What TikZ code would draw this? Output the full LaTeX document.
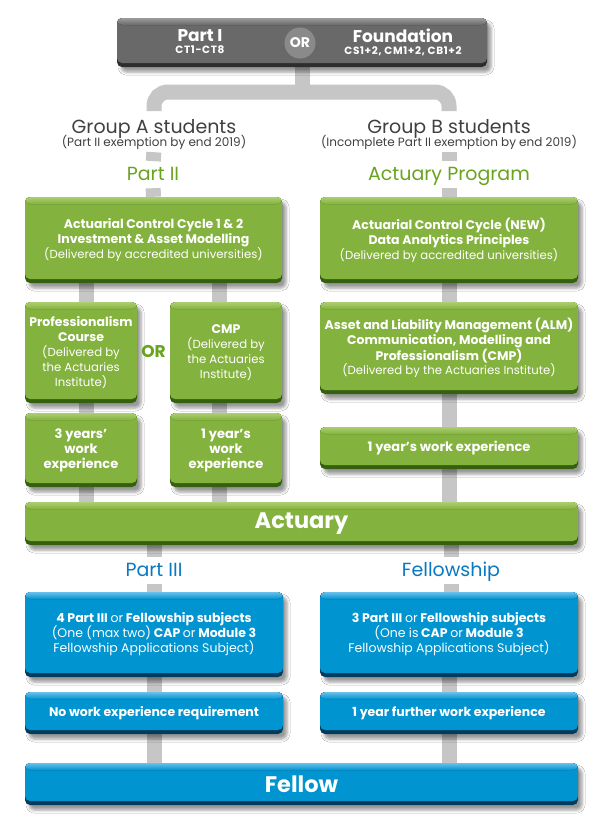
\documentclass[tikz,border=0pt]{standalone}
\usepackage{fontspec}
\setmainfont{Poppins}
\usetikzlibrary{shadows.blur,backgrounds,calc}
\definecolor{conncol}{RGB}{198,198,198}
\definecolor{gmid}{RGB}{132,178,62}
\definecolor{glight}{RGB}{172,206,112}
\definecolor{gdark}{RGB}{52,96,16}
\definecolor{bmid}{RGB}{0,148,208}
\definecolor{blight}{RGB}{105,192,236}
\definecolor{bdark}{RGB}{0,58,92}
\definecolor{kmid}{RGB}{105,105,105}
\definecolor{klight}{RGB}{155,155,155}
\definecolor{kdark}{RGB}{45,45,45}
\definecolor{orcol}{RGB}{138,138,138}
\definecolor{gtext}{RGB}{104,164,30}
\definecolor{btext}{RGB}{10,120,192}
\definecolor{ktext}{RGB}{64,64,64}
\newcommand{\regtxt}[1]{{\fontsize{11.7}{14.5}\selectfont\mdseries #1}}
\tikzset{
  conn/.style={draw=conncol, line width=15pt},
  threed/.style n args={3}{fill=#3,
    path picture={
      \fill[#2] ([yshift=4pt]path picture bounding box.south west) rectangle (path picture bounding box.north east);
      \fill[top color=#1, bottom color=#2] ([yshift=-7pt]path picture bounding box.north west) rectangle (path picture bounding box.north east);
    }},
  boxbase/.style={rounded corners=5pt, inner sep=0pt, align=center, text=white,
    blur shadow={shadow xshift=4pt, shadow yshift=-5pt, shadow blur radius=3pt, shadow opacity=40}},
  gbox/.style={boxbase, threed={glight}{gmid}{gdark}, font=\fontsize{12.5}{14.8}\selectfont\bfseries},
  wbox/.style={gbox, font=\fontsize{13}{15}\selectfont\bfseries},
  bbox/.style={boxbase, threed={blight}{bmid}{bdark}, font=\fontsize{12.5}{15}\selectfont\bfseries},
  kbox/.style={boxbase, threed={klight}{kmid}{kdark}},
  head/.style={anchor=base, inner sep=1pt, text=ktext, text height=13.7pt, text depth=4pt, font=\fontsize{19}{22}\selectfont},
  subhead/.style={anchor=base, inner sep=1pt, text=ktext, text height=8.6pt, text depth=2.6pt, font=\fontsize{12}{14}\selectfont},
  ghead/.style={head, text=gtext},
  bhead/.style={head, text=btext},
  bigbox/.style={font=\fontsize{22.5}{26}\selectfont\bfseries},
}
\begin{document}
\begin{tikzpicture}[x=1pt,y=-1pt]
\useasboundingbox (0,0) rectangle (600,830);
% top box
\node[kbox, minimum width=370pt, minimum height=49pt] (top) at (302,42.5) {};
\node[circle, fill=orcol, minimum size=31pt, inner sep=0pt, text=white, font=\fontsize{14}{16}\selectfont\bfseries] (orc) at (300,43) {OR};
\node[text=white, align=center, inner sep=0pt, font=\fontsize{17}{12}\selectfont\bfseries] (p1) at (200,42) {Part I\\{\fontsize{10.5}{11}\selectfont\addfontfeature{LetterSpace=6}CT1-CT8}};
\node[text=white, align=center, inner sep=0pt, font=\fontsize{17}{12}\selectfont\bfseries] (fd) at (403,42) {Foundation\\{\fontsize{10.5}{11}\selectfont\addfontfeature{LetterSpace=6}CS1+2, CM1+2, CB1+2}};
% headings
\node[head] (gA) at (154,133) {Group A students};
\node[subhead] (sA) at (154,146) {(Part II exemption by end 2019)};
\node[ghead] (p2) at (153,180) {Part II};
\node[head] (gB) at (449,133) {Group B students};
\node[subhead] (sB) at (449,146) {(Incomplete Part II exemption by end 2019)};
\node[ghead] (ap) at (449,180) {Actuary Program};
% green boxes
\node[gbox, minimum width=257pt, minimum height=86pt] (accA) at (153.5,240)
  {Actuarial Control Cycle 1 \& 2\\Investment \& Asset Modelling\\\regtxt{(Delivered by accredited universities)}};
\node[gbox, minimum width=258pt, minimum height=86pt] (accB) at (449,240)
  {Actuarial Control Cycle (NEW)\\Data Analytics Principles\\\regtxt{(Delivered by accredited universities)}};
\node[gbox, minimum width=112pt, minimum height=101pt] (prof) at (81,352.5)
  {Professionalism\\Course\\\regtxt{(Delivered by}\\\regtxt{the Actuaries}\\\regtxt{Institute)}};
\node[gbox, minimum width=112pt, minimum height=101pt] (cmp) at (226,352.5)
  {CMP\\\regtxt{(Delivered by}\\\regtxt{the Actuaries}\\\regtxt{Institute)}};
\node[inner sep=0pt, text=gtext, font=\fontsize{17}{19}\selectfont\bfseries] (orA) at (153.5,352) {OR};
\node[gbox, minimum width=258pt, minimum height=92pt] (alm) at (449,348)
  {Asset and Liability Management (ALM)\\Communication, Modelling and\\Professionalism (CMP)\\\regtxt{(Delivered by the Actuaries Institute)}};
\node[wbox, minimum width=112pt, minimum height=74pt] (wA1) at (81,450) {3 years'\\work\\experience};
\node[wbox, minimum width=112pt, minimum height=74pt] (wA2) at (226,450) {1 year's\\work\\experience};
\node[wbox, minimum width=258pt, minimum height=42pt] (wB) at (449,448) {1 year's work experience};
\node[gbox, bigbox, minimum width=553pt, minimum height=43pt] (act) at (301.5,523.5) {Actuary};
% part III / fellowship
\node[bhead] (p3) at (154,576) {Part III};
\node[bhead] (fs) at (451,576) {Fellowship};
\node[bbox, minimum width=258pt, minimum height=85pt] (bA1) at (154,634.5)
  {4 Part III {\mdseries or} Fellowship subjects\\{\mdseries (One (max two)} CAP {\mdseries or} Module 3\\{\mdseries Fellowship Applications Subject)}};
\node[bbox, minimum width=258pt, minimum height=85pt] (bB1) at (449,634.5)
  {3 Part III {\mdseries or} Fellowship subjects\\{\mdseries (One is} CAP {\mdseries or} Module 3\\{\mdseries Fellowship Applications Subject)}};
\node[bbox, minimum width=258pt, minimum height=42pt] (bA2) at (154,713) {No work experience requirement};
\node[bbox, minimum width=258pt, minimum height=42pt] (bB2) at (449,713) {1 year further work experience};
\node[bbox, bigbox, minimum width=553pt, minimum height=42pt] (fel) at (301.5,784) {Fellow};
% connectors
\begin{scope}[on background layer]
  \fill[white] (0,0) rectangle (600,830);
  \coordinate (split) at (302,92);
  \coordinate (legA) at (154,111);
  \coordinate (legB) at (449,111);
  \draw[conn] (top.south) -- (split);
  \draw[conn, rounded corners=14pt] (legA) |- (split) -| (legB);
  \draw[conn, shorten <=2.4pt, shorten >=4pt] (sA.south) -- (p2.north);
  \draw[conn, shorten <=2.4pt, shorten >=4pt] (sB.south) -- (ap.north);
  \draw[conn, shorten <=3pt] (p2.south) -- (accA.north);
  \draw[conn, shorten <=3pt] (ap.south) -- (accB.north);
  \coordinate (cL) at (86,0);
  \coordinate (cR) at (219,0);
  \draw[conn] (accA.south -| cL) -- (act.north -| cL);
  \draw[conn] (accA.south -| cR) -- (act.north -| cR);
  \draw[conn] (accB.south) -- (act.north -| accB);
  \draw[conn, shorten >=4pt] (act.south -| p3) -- (p3.north);
  \draw[conn, shorten >=4pt] (act.south -| fs) -- (fs.north);
  \draw[conn, shorten <=3pt] (p3.south) -- (bA1.north -| p3);
  \draw[conn, shorten <=3pt] (fs.south) -- (bB1.north -| fs);
  \draw[conn] (bA1.south) -- (fel.north -| bA1);
  \draw[conn] (bB1.south) -- (fel.north -| bB1);
\end{scope}
\end{tikzpicture}
\end{document}
